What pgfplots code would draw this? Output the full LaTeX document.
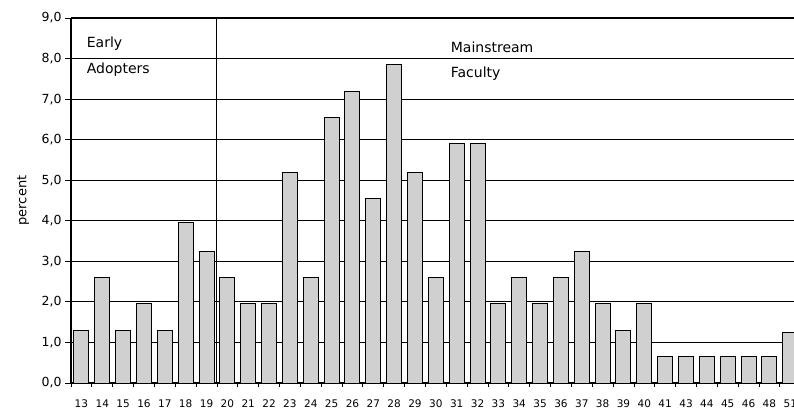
\documentclass[border=0pt]{standalone}
\usepackage{pgfplots}
\pgfplotsset{compat=1.18}
\usepackage{fontspec}
\setmainfont{DejaVu Sans}
\definecolor{barfill}{RGB}{208,208,208}
\begin{document}
\begin{tikzpicture}[x=1pt,y=1pt]
\useasboundingbox (0,0) rectangle (794,412);
\begin{axis}[
  at={(71pt,29pt)}, anchor=south west,
  scale only axis, width=723pt, height=365pt,
  xmin=-0.5, xmax=34.18, ymin=0, ymax=9,
  axis x line*=bottom, axis y line*=left,
  axis line style={-, black, line width=1.1pt},
  ytick={0,...,9},
  ymajorgrids, grid style={black, line width=1.1pt},
  xtick={0,...,34},
  xticklabels={13,14,15,16,17,18,19,20,21,22,23,24,25,26,27,28,29,30,31,32,33,34,35,36,37,38,39,40,41,43,44,45,46,48,51},
  major x tick style={draw=none},
  minor xtick={-0.5,0.5,...,33.5},
  minor x tick style={black, line width=0.8pt},
  minor tick length=4pt,
  major tick length=6pt,
  major y tick style={black, line width=0.8pt},
  tick align=outside,
  xticklabel style={font=\fontsize{10.5}{12}\selectfont, yshift=-7pt},
  yticklabel style={font=\fontsize{12.5}{14}\selectfont,
    /pgf/number format/.cd, fixed, fixed zerofill, precision=1, use comma, assume math mode=true},
  ylabel={percent},
  ylabel style={at={(axis description cs:-0.066,0.5)}, anchor=center, font=\fontsize{13}{15}\selectfont},
  clip=true,
]
\addplot[ybar, bar width=15pt, fill=barfill, draw=black, line width=1pt] coordinates {
(0,1.3) (1,2.6) (2,1.3) (3,1.95) (4,1.3) (5,3.95) (6,3.25) (7,2.6) (8,1.95) (9,1.95)
(10,5.2) (11,2.6) (12,6.55) (13,7.2) (14,4.55) (15,7.85) (16,5.2) (17,2.6) (18,5.9) (19,5.9)
(20,1.95) (21,2.6) (22,1.95) (23,2.6) (24,3.25) (25,1.95) (26,1.3) (27,1.95) (28,0.65) (29,0.65)
(30,0.65) (31,0.65) (32,0.65) (33,0.65) (34,1.25)
};
\draw[black, line width=1pt] (axis cs:6.5,0) -- (axis cs:6.5,9);
\draw[black, line width=1.8pt] (axis cs:-0.5,9) -- (axis cs:34.18,9);
\node[anchor=base west, inner sep=0pt, font=\fontsize{14}{16}\selectfont] at (axis cs:0.25,8.28) {Early};
\node[anchor=base west, inner sep=0pt, font=\fontsize{14}{16}\selectfont] at (axis cs:0.25,7.64) {Adopters};
\node[anchor=base west, inner sep=0pt, font=\fontsize{14}{16}\selectfont] at (axis cs:17.71,8.14) {Mainstream};
\node[anchor=base west, inner sep=0pt, font=\fontsize{14}{16}\selectfont] at (axis cs:17.71,7.54) {Faculty};
\end{axis}
\end{tikzpicture}
\end{document}
